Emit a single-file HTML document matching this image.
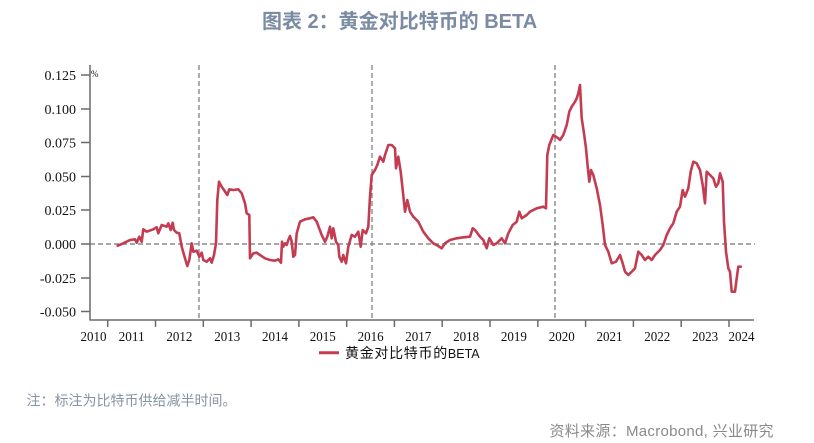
<!DOCTYPE html>
<html>
<head>
<meta charset="utf-8">
<style>
  html,body{margin:0;padding:0;background:#fff;}
  body{width:814px;height:443px;overflow:hidden;position:relative;}
  svg{position:absolute;left:0;top:0;}
</style>
</head>
<body>
<svg width="814" height="443" viewBox="0 0 814 443" xmlns="http://www.w3.org/2000/svg">
  <!-- Title -->
  <text x="262" y="28" font-family="'Liberation Sans','Noto Sans CJK SC',sans-serif" font-size="20" font-weight="bold" fill="#7b8ba3">图表 2：黄金对比特币的 BETA</text>

  <!-- vertical dashed halving lines -->
  <g stroke="#8a8a8a" stroke-width="1.4" stroke-dasharray="5,3" fill="none">
    <line x1="199" y1="65" x2="199" y2="320"/>
    <line x1="372" y1="65" x2="372" y2="320"/>
    <line x1="555" y1="65" x2="555" y2="320"/>
    <line x1="90" y1="244" x2="755" y2="244"/>
  </g>

  <!-- axes -->
  <g stroke="#6a6a6a" stroke-width="1.5" fill="none">
    <line x1="90" y1="65" x2="90" y2="320.5"/>
    <line x1="89.5" y1="320" x2="754" y2="320"/>
    <!-- y ticks -->
    <line x1="81" y1="75" x2="90" y2="75"/>
    <line x1="81" y1="109" x2="90" y2="109"/>
    <line x1="81" y1="142.5" x2="90" y2="142.5"/>
    <line x1="81" y1="176.5" x2="90" y2="176.5"/>
    <line x1="81" y1="210" x2="90" y2="210"/>
    <line x1="81" y1="244" x2="90" y2="244"/>
    <line x1="81" y1="278" x2="90" y2="278"/>
    <line x1="81" y1="311.5" x2="90" y2="311.5"/>
    <!-- x ticks -->
    <line x1="107.7" y1="320" x2="107.7" y2="327"/>
    <line x1="155.5" y1="320" x2="155.5" y2="327"/>
    <line x1="203.3" y1="320" x2="203.3" y2="327"/>
    <line x1="251.1" y1="320" x2="251.1" y2="327"/>
    <line x1="298.9" y1="320" x2="298.9" y2="327"/>
    <line x1="346.7" y1="320" x2="346.7" y2="327"/>
    <line x1="394.4" y1="320" x2="394.4" y2="327"/>
    <line x1="442.2" y1="320" x2="442.2" y2="327"/>
    <line x1="490" y1="320" x2="490" y2="327"/>
    <line x1="537.8" y1="320" x2="537.8" y2="327"/>
    <line x1="585.6" y1="320" x2="585.6" y2="327"/>
    <line x1="633.4" y1="320" x2="633.4" y2="327"/>
    <line x1="681.2" y1="320" x2="681.2" y2="327"/>
    <line x1="729" y1="320" x2="729" y2="327"/>
  </g>

  <!-- y labels -->
  <g font-family="'Liberation Serif',serif" font-size="14" fill="#111" text-anchor="end">
    <text x="76" y="80">0.125</text>
    <text x="76" y="114">0.100</text>
    <text x="76" y="147.5">0.075</text>
    <text x="76" y="181.5">0.050</text>
    <text x="76" y="215">0.025</text>
    <text x="76" y="249">0.000</text>
    <text x="76" y="283">-0.025</text>
    <text x="76" y="316.5">-0.050</text>
  </g>
  <text x="91" y="77" font-family="'Liberation Serif',serif" font-size="9" fill="#111">%</text>

  <!-- x labels -->
  <g font-family="'Liberation Serif',serif" font-size="14" fill="#111" text-anchor="middle">
    <text x="93.5" y="341" textLength="26" lengthAdjust="spacingAndGlyphs">2010</text>
    <text x="131.6" y="341" textLength="26" lengthAdjust="spacingAndGlyphs">2011</text>
    <text x="179.4" y="341" textLength="26" lengthAdjust="spacingAndGlyphs">2012</text>
    <text x="227.2" y="341" textLength="26" lengthAdjust="spacingAndGlyphs">2013</text>
    <text x="275" y="341" textLength="26" lengthAdjust="spacingAndGlyphs">2014</text>
    <text x="322.8" y="341" textLength="26" lengthAdjust="spacingAndGlyphs">2015</text>
    <text x="370.6" y="341" textLength="26" lengthAdjust="spacingAndGlyphs">2016</text>
    <text x="418.3" y="341" textLength="26" lengthAdjust="spacingAndGlyphs">2017</text>
    <text x="466.1" y="341" textLength="26" lengthAdjust="spacingAndGlyphs">2018</text>
    <text x="513.9" y="341" textLength="26" lengthAdjust="spacingAndGlyphs">2019</text>
    <text x="561.7" y="341" textLength="26" lengthAdjust="spacingAndGlyphs">2020</text>
    <text x="609.5" y="341" textLength="26" lengthAdjust="spacingAndGlyphs">2021</text>
    <text x="657.3" y="341" textLength="26" lengthAdjust="spacingAndGlyphs">2022</text>
    <text x="705.1" y="341" textLength="26" lengthAdjust="spacingAndGlyphs">2023</text>
    <text x="741.5" y="341" textLength="26" lengthAdjust="spacingAndGlyphs">2024</text>
  </g>

  <!-- series -->
  <polyline fill="none" stroke="#c43c51" stroke-width="2.6" stroke-linejoin="round" stroke-linecap="round"
    points="117.7,245.7 123.3,243.3 130,240 135,239.3 136.7,242.7 139.3,236.7 141.7,241.7 143.3,229.3 146.7,231.7 153.3,229.3 156.7,227.3 158.3,233.3 161.7,225 166.7,226.7 168.3,223.3 170.7,230 172.7,222.7 174,230 176.7,232.7 179.3,233.3 181.7,246.7 185,258.3 187.3,266 189.3,260 191.7,243.3 193.3,251.7 196.7,250.7 199.3,256.7 201.7,252.7 203.3,260 206.7,261.7 210,258.3 211.7,262.7 214,255 216,243.3 217.3,200 219,181.7 221.7,186.7 224,190 227.3,195 229.3,189.3 233.3,190 238.3,189.3 241.7,193.3 245,203.3 246.7,213.3 249.3,215 250,258.3 253.3,253.3 256.7,252.7 260,255 265,258.3 270,260 275,260.7 278.3,259.3 281,262.7 282,241.7 283.3,246.7 285,243.3 286.7,245 288.3,240 290,236 291.7,241.7 293.3,256.7 295,255 296.7,233.3 300,221.7 305,219.3 310,218.3 313.3,217.3 316.7,221.7 321.7,235 325,241.7 327.3,236.7 330,226.7 331.7,238.3 333.3,228.3 336,241.7 338.3,245 339.3,256.7 341.7,261.7 343.3,255 346,263.3 348.3,246.7 351.7,235 355,236.7 358.3,231.7 360.7,246.7 362.7,230 366,233.3 368.3,226.7 370,196.7 371.7,175 375,170 377.3,165 380,156.7 383.3,161.7 385,155 386.7,150 388.3,145 391.7,145 395,148.3 396,168.3 398.3,156.7 400.7,171.7 402.7,190 405,211.7 407.3,200 410,211.7 413.3,216.7 418.3,221.7 423.3,231.7 428.3,238.3 433.3,243.3 438.3,246 441.7,248.3 445,243.3 450,240 456.7,238.3 463.3,237.3 470,236.7 472.7,228.3 475,230 480,236.7 483.3,240 486.7,248.3 489.3,238.3 493.3,245 496.7,243.3 501.7,238.3 505,243.3 508.3,233.3 512.7,225 516.7,221.7 519.3,211.7 521.7,218.3 526.7,215 530,211.7 536.7,208.3 543.3,206.7 546,208.3 547.3,155 549.3,145 553.3,135 558.3,138.3 560,140 563.3,135 566.7,125 569.3,111.7 571.7,106.7 575,101.7 576.7,98.3 578.3,93.3 580,85 581.7,118.3 584,133.3 586,148.3 587.7,166.7 589.3,181.7 591,170 593.3,175 596.7,188.3 600,205 602.7,225 605,245 608.3,251.7 611.7,263.3 616,261.7 620,255 622.7,263.3 625,271.7 628.3,275 631.7,271.7 635,268.3 638.3,251.7 641.7,255 645,260 648.3,256.7 651.7,260 655,255 660,250 663.3,245 666.7,235 670,228.3 673.3,223.3 676.7,211.7 680,206.7 682.7,190 685,196.7 688.3,188.3 690.7,171.7 693.3,161.7 696.7,163.3 700,170 702.7,185 705,203.3 706.7,171.7 710,175 713.3,178.3 716,186.7 718.3,183.3 720,173.3 722.7,181.7 724,221.7 726,251.7 728.3,268.3 730,271.7 731.7,291.7 735,291.7 736.7,278.3 738.3,266.7 740.7,266.7"/>

  <!-- legend -->
  <line x1="319" y1="352.7" x2="339" y2="352.7" stroke="#c43c51" stroke-width="3"/>
  <text x="345" y="358" font-family="'Liberation Sans','Noto Sans CJK SC',sans-serif" font-size="14" fill="#111"><tspan letter-spacing="0.7">黄金对比特币的</tspan><tspan font-size="12.5">BETA</tspan></text>

  <!-- note -->
  <text x="26.5" y="405.5" font-family="'Liberation Sans','Noto Sans CJK SC',sans-serif" font-size="14" fill="#8593a8">注：标注为比特币供给减半时间。</text>

  <!-- source -->
  <text x="549.5" y="436" font-family="'Liberation Sans','Noto Sans CJK SC',sans-serif" font-size="15" fill="#8a8a8a" textLength="224" lengthAdjust="spacing">资料来源：Macrobond, 兴业研究</text>
</svg>
</body>
</html>
